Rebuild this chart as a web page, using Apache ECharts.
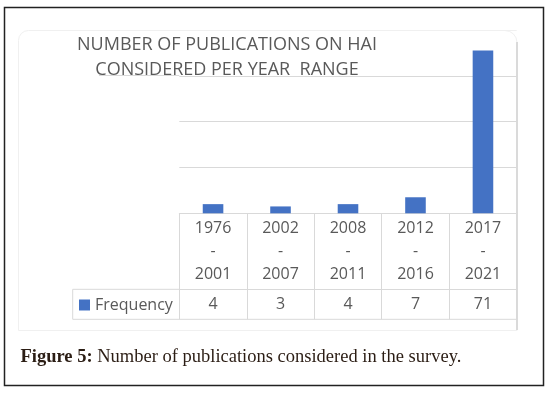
<!DOCTYPE html>
<html>
<head>
<meta charset="utf-8">
<script src="https://cdn.jsdelivr.net/npm/echarts@6/dist/echarts.min.js"></script>
<style>
html,body{margin:0;padding:0;background:#fff;}
#c{width:553px;height:394px;}
</style>
</head>
<body>
<div id="c"></div>
<script>
const categories = ['1976\n-\n2001', '2002\n-\n2007', '2008\n-\n2011', '2012\n-\n2016', '2017\n-\n2021'];
const frequency = [4, 3, 4, 7, 71];
const seriesName = 'Frequency';
const titleText = 'NUMBER OF PUBLICATIONS ON HAI\nCONSIDERED PER YEAR  RANGE';
const captionBold = 'Figure 5:';
const captionText = ' Number of publications considered in the survey.';

const chart = echarts.init(document.getElementById('c'), null, {renderer: 'canvas'});
const gridCol = '#d9d9d9';
const txt = '#595959';
const font = 'Open Sans';

chart.setOption({
  backgroundColor: '#fff',
  animation: false,
  title: {
    text: titleText,
    left: 222, top: 27, textAlign: 'center',
    textStyle: {fontFamily: font, fontSize: 18, fontWeight: 'normal', color: txt, lineHeight: 25, align: 'center'}
  },
  legend: {
    data: [seriesName],
    left: 74, top: 292,
    icon: 'rect', itemWidth: 11, itemHeight: 11,
    textStyle: {fontFamily: font, fontSize: 16, color: txt},
    selectedMode: false
  },
  grid: {left: 179.3, right: 36.3, top: 30, bottom: 180.7, containLabel: false},
  xAxis: [{
    type: 'category',
    data: categories,
    boundaryGap: true,
    axisLine: {show: true, lineStyle: {color: gridCol, width: 1}},
    axisTick: {show: true, alignWithLabel: false, length: 106, lineStyle: {color: gridCol, width: 1}},
    axisLabel: {margin: 4, fontFamily: font, fontSize: 16, color: txt, lineHeight: 23, interval: 0},
    splitLine: {show: false}
  }, {
    type: 'category',
    data: frequency.map(String),
    position: 'bottom',
    offset: 76,
    boundaryGap: true,
    axisLine: {show: true, lineStyle: {color: gridCol, width: 1}},
    axisTick: {show: false},
    axisLabel: {margin: 5, fontFamily: font, fontSize: 16, color: txt, lineHeight: 20, interval: 0},
    splitLine: {show: false}
  }],
  yAxis: {
    type: 'value', min: 0, max: 80, interval: 20,
    axisLabel: {show: false}, axisLine: {show: false}, axisTick: {show: false},
    splitLine: {show: true, lineStyle: {color: [gridCol, gridCol, gridCol, gridCol, '#f0f0f0'], width: 1}}
  },
  series: [{
    name: seriesName,
    type: 'bar',
    data: frequency,
    barWidth: '30.5%',
    itemStyle: {color: '#4472c4'}
  }],
  graphic: [
    {type: 'rect', shape: {x: 4.5, y: 7.5, width: 539, height: 378}, style: {fill: null, stroke: '#222', lineWidth: 1.5}, z: -10},
    {type: 'rect', shape: {x: 18.5, y: 30.5, width: 498.5, height: 300, r: [10, 12, 0, 0]}, style: {fill: null, stroke: '#f0f0f0', lineWidth: 1}, z: -5},
    {type: 'line', shape: {x1: 517, y1: 42, x2: 517, y2: 330}, style: {stroke: '#d0d0d0', lineWidth: 1.5}, z: -4},
    {type: 'line', shape: {x1: 99, y1: 75.5, x2: 179.3, y2: 75.5}, style: {stroke: gridCol, lineWidth: 1}},
    {type: 'line', shape: {x1: 72.7, y1: 289.3, x2: 179.3, y2: 289.3}, style: {stroke: gridCol, lineWidth: 1}},
    {type: 'line', shape: {x1: 72.7, y1: 319.3, x2: 517, y2: 319.3}, style: {stroke: gridCol, lineWidth: 1}},
    {type: 'line', shape: {x1: 72.7, y1: 289.3, x2: 72.7, y2: 319.3}, style: {stroke: gridCol, lineWidth: 1}},
    {type: 'text', left: 20.5, top: 348,
      style: {text: '{b|' + captionBold + '}' + captionText,
        font: '18.5px "Liberation Serif"', fill: '#2b1d14',
        rich: {b: {fontFamily: 'Liberation Serif', fontSize: 18.5, fontWeight: 'bold', fill: '#2b1d14'}}}}
  ]
});
</script>
</body>
</html>
